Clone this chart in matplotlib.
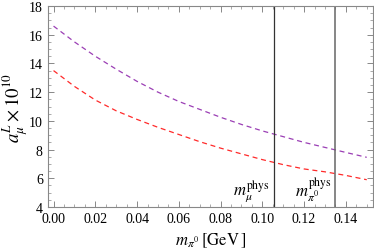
import matplotlib
matplotlib.use("Agg")
import matplotlib.pyplot as plt
from matplotlib.ticker import MultipleLocator

mass = [0.00, 0.01, 0.02, 0.03, 0.04, 0.05, 0.06, 0.07, 0.08,
        0.09, 0.10, 0.11, 0.12, 0.13, 0.14, 0.15]
upper = [16.6, 15.5, 14.5, 13.6, 12.75, 12.0, 11.35, 10.8, 10.25,
         9.75, 9.3, 8.9, 8.5, 8.15, 7.8, 7.46]
lower = [13.5, 12.4, 11.45, 10.7, 10.1, 9.55, 9.05, 8.55, 8.1,
         7.7, 7.3, 6.95, 6.65, 6.45, 6.2, 5.9]
m_mu = 0.1057
m_pi0 = 0.135

plt.rcParams['font.family'] = 'Liberation Serif'
plt.rcParams['mathtext.fontset'] = 'stix'

fig = plt.figure(figsize=(3.74, 2.53), dpi=100)
ax = fig.add_axes((47.7 / 374, 45 / 253, 325.3 / 374, 201 / 253))

ax.plot(mass, upper, color='#9b3fb5', lw=0.9, dashes=(4, 3))
ax.plot(mass, lower, color='#ff2a2a', lw=0.9, dashes=(4, 3))
ax.axvline(m_mu, color='#333333', lw=0.9)
ax.axvline(m_pi0, color='#666666', lw=1.1)

ax.text(m_mu - 0.002, 4.3, r'$m_{\mu}^{\rm phys}$', ha='right', va='bottom', fontsize=12)
ax.text(m_pi0 - 0.002, 4.3, r'$m_{\pi^0}^{\rm phys}$', ha='right', va='bottom', fontsize=12)

ax.set_xlim(-0.0028, 0.153)
ax.set_ylim(4, 18)
ax.xaxis.set_major_locator(MultipleLocator(0.02))
ax.xaxis.set_minor_locator(MultipleLocator(0.005))
ax.yaxis.set_major_locator(MultipleLocator(2))
ax.yaxis.set_minor_locator(MultipleLocator(0.5))
ax.xaxis.set_major_formatter(plt.FuncFormatter(lambda v, p: f"{v:.2f}"))
ax.tick_params(which='both', direction='in', top=True, right=True,
               color='#888888', labelsize=10)
ax.tick_params(which='major', length=4, width=0.7)
ax.tick_params(which='minor', length=2, width=0.5)
for s in ax.spines.values():
    s.set_color('#888888')
    s.set_linewidth(0.8)

ax.set_xlabel(r'$m_{\pi^0}\,[\mathrm{GeV}\,]$', fontsize=12, va='center')
ax.xaxis.set_label_coords(0.5, -0.165)
ax.set_ylabel(r'$a_{\mu}^{L}\times 10^{10}$', fontsize=13.5, va='center')
ax.yaxis.set_label_coords(-0.1, 0.5)

fig.savefig('out.png', dpi=100)
